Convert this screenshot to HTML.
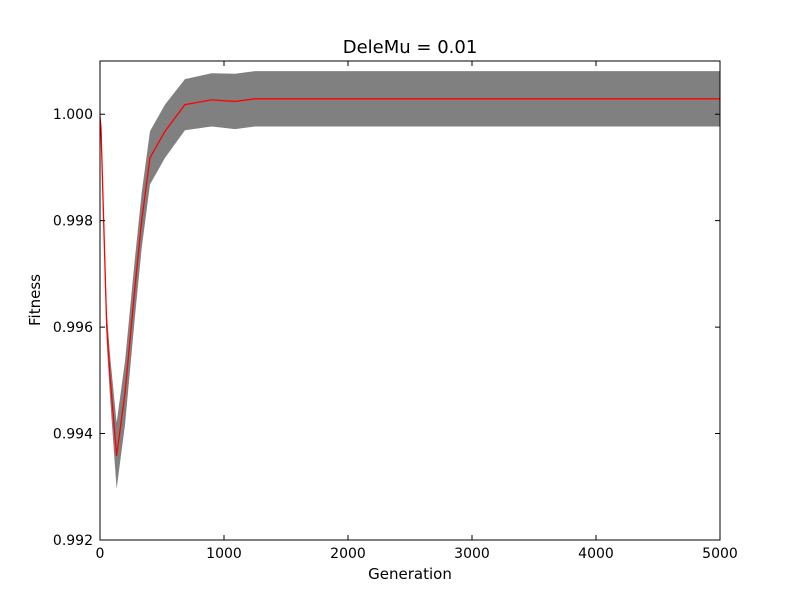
<!DOCTYPE html>
<html><head><meta charset="utf-8">
<style>
body{margin:0;background:#fff;}
svg{display:block;font-family:"DejaVu Sans","Liberation Sans",sans-serif;}
</style></head>
<body>
<svg id="chart" width="800" height="600">
<rect width="800" height="600" fill="#fff"/>
<g id="plot"></g>
<rect x="100" y="61" width="620" height="479" fill="none" stroke="#000" stroke-width="1"/>
<g id="axes"></g>
<text x="410" y="53" font-size="18" text-anchor="middle">DeleMu = 0.01</text>
<text x="410" y="579" font-size="15" text-anchor="middle">Generation</text>
<text x="40" y="300" font-size="15" text-anchor="middle" transform="rotate(-90 40 300)">Fitness</text>
</svg>
<script>
const generations=[0,8,54,81,134,202,282,336,403,524,685,900,1089,1250,5000];
const meanFitness=[0.99995,0.99974,0.99601,0.99507,0.99358,0.99477,0.99675,0.99800,0.99918,0.99968,1.00018,1.00027,1.00024,1.00029,1.00029];
const stdFitness=[0.00003,0.00008,0.00030,0.00040,0.00062,0.00060,0.00055,0.00052,0.00050,0.00050,0.00048,0.00050,0.00052,0.00052,0.00052];
const xTicks=[0,1000,2000,3000,4000,5000];
const yTicks=[0.992,0.994,0.996,0.998,1.000];
const NS="http://www.w3.org/2000/svg";
const X0=100,X1=720,Y0=540,Y1=61,xMin=0,xMax=5000,yMin=0.992,yMax=1.001;
function xs(v){return X0+(v-xMin)/(xMax-xMin)*(X1-X0);}
function ys(v){return Y0-(v-yMin)/(yMax-yMin)*(Y0-Y1);}
const plot=document.getElementById('plot'),axes=document.getElementById('axes');
let up=[],lo=[],mid=[];
for(let i=0;i<generations.length;i++){
  up.push(xs(generations[i])+','+ys(meanFitness[i]+stdFitness[i]));
  lo.unshift(xs(generations[i])+','+ys(meanFitness[i]-stdFitness[i]));
  mid.push(xs(generations[i])+','+ys(meanFitness[i]));
}
const band=document.createElementNS(NS,'polygon');
band.setAttribute('points',up.concat(lo).join(' '));
band.setAttribute('fill','#808080');


plot.appendChild(band);
const line=document.createElementNS(NS,'polyline');
line.setAttribute('points',mid.join(' '));
line.setAttribute('fill','none');line.setAttribute('stroke','#ff0000');line.setAttribute('stroke-width','1.3');


plot.appendChild(line);
xTicks.forEach(t=>{
  const x=xs(t);
  const l=document.createElementNS(NS,'path');
  l.setAttribute('d',`M${x},540v-5M${x},61v5`);l.setAttribute('stroke','#000');
  
  
  axes.appendChild(l);
  const tx=document.createElementNS(NS,'text');
  tx.setAttribute('x',x);tx.setAttribute('y',558);tx.setAttribute('font-size','14');tx.setAttribute('text-anchor','middle');
  tx.textContent=t;
  
  
  axes.appendChild(tx);
});
yTicks.forEach(t=>{
  const y=ys(t);
  const l=document.createElementNS(NS,'path');
  l.setAttribute('d',`M100,${y}h5M720,${y}h-5`);l.setAttribute('stroke','#000');
  
  
  axes.appendChild(l);
  const tx=document.createElementNS(NS,'text');
  tx.setAttribute('x',93);tx.setAttribute('y',y+5);tx.setAttribute('font-size','14');tx.setAttribute('text-anchor','end');
  tx.textContent=t.toFixed(3);
  
  
  axes.appendChild(tx);
});
</script>
</body></html>
